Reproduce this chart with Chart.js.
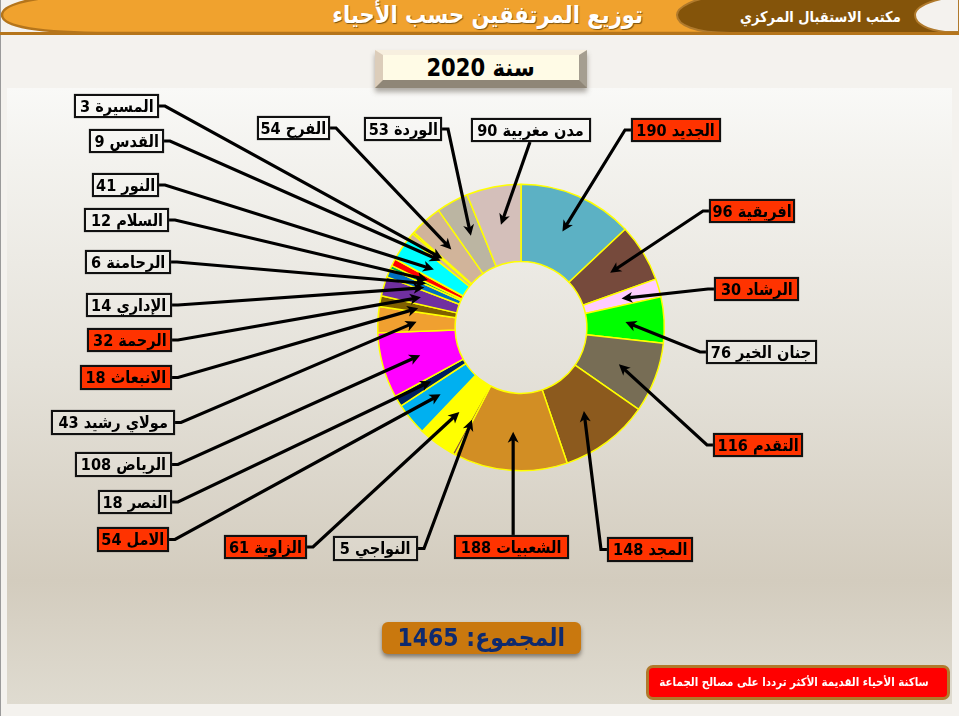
<!DOCTYPE html>
<html lang="ar">
<head>
<meta charset="utf-8">
<title>توزيع المرتفقين حسب الأحياء</title>
<script src="https://cdn.jsdelivr.net/npm/chart.js@4"></script>
<style>
  * { box-sizing: border-box; }
  body { margin: 0; width: 959px; height: 716px; overflow: hidden; position: relative; background: #f4f2ee; font-family: "DejaVu Sans", sans-serif; font-weight: bold; }
  .abs { position: absolute; }
  .angosto { display: inline-block; transform: scaleX(.88); white-space: nowrap; }
  #edge { left: 0; top: 0; width: 1px; height: 716px; background: #9a9a9a; }
  #panel { left: 7px; top: 88px; width: 945px; height: 616px; background: linear-gradient(#f9f9f7 0%, #f3f2ee 12%, #e5e2da 45%, #d3ccbe 80%, #dfdbd0 100%); }
  #header { left: 0; top: 0; }
  #title { left: 300px; top: 0; width: 376px; height: 33px; color: #fff; font-size: 24px; line-height: 31px; text-align: center; white-space: nowrap; text-shadow: 1px 1px 1px #7a5210; }
  #office { left: 720px; top: 0; width: 200px; height: 33px; color: #fff; font-size: 14.8px; line-height: 33px; text-align: center; white-space: nowrap; }
  #year { left: 375px; top: 50px; width: 212px; height: 38px; background: #fffbe6; border-style: solid; border-width: 5px 8px 8px 8px; border-color: #f7efdf #a59e90 #8f8677 #dccdba; box-shadow: 0 4px 5px rgba(80,70,60,.45); text-align: center; font-size: 24px; line-height: 26px; color: #000; }
  #total { left: 382px; top: 622px; width: 199px; height: 32px; background: #c9780e; border-radius: 6px; box-shadow: 0 3px 4px rgba(70,60,50,.6); text-align: center; font-size: 25px; line-height: 32px; color: #0e2a6e; }
  #note { left: 646px; top: 665px; width: 304px; height: 35px; background: #ff0000; border: 3px solid #b07a2c; border-radius: 7px; text-align: center; font-size: 11.7px; line-height: 28px; color: #fff; white-space: nowrap; }
  #myChart { left: 0; top: 0; }
  .caja { position: absolute; display: flex; align-items: center; justify-content: center; border: 2px solid #111; color: #000; font-size: 16.5px; white-space: nowrap; background: rgba(255,255,255,.15); box-shadow: 0 0 1px #555; }
  .caja.roja { background: #ff3300; }
</style>
</head>
<body>
<div class="abs" id="panel"></div>
<div class="abs" id="edge"></div>
<svg class="abs" id="header" width="959" height="36">
  <path d="M959,33 L110,33 C40,33 2,27 2,15 C2,5 30,-2 60,-3 L959,-3 Z" fill="#f0a22e" stroke="#b5751b" stroke-width="2.5"/>
  <path d="M959,33 L730,33 C695,33 677,25 677,15 C677,7 695,-2 715,-3 L959,-3 Z" fill="#84540a" stroke="#b07a2c" stroke-width="2"/>
  <path d="M959,32 L945,32 C928,30 915,24 915,15 C915,7 930,1 950,-3 L959,-3 Z" fill="#f4f2ee" stroke="#b07a2c" stroke-width="2"/>
  <rect x="0" y="32" width="959" height="3" fill="#b5751b"/>
</svg>
<div class="abs" id="title" dir="rtl"><span class="angosto">توزيع المرتفقين حسب الأحياء</span></div>
<div class="abs" id="office" dir="rtl"><span class="angosto">مكتب الاستقبال المركزي</span></div>
<div class="abs" id="year" dir="rtl"><span class="angosto">سنة 2020</span></div>
<canvas class="abs" id="myChart" width="959" height="716"></canvas>
<div id="cajas"></div>
<div class="abs" id="total" dir="rtl"><span class="angosto">المجموع: 1465</span></div>
<div class="abs" id="note" dir="rtl"><span class="angosto">ساكنة الأحياء القديمة الأكثر ترددا على مصالح الجماعة</span></div>

<script>
// clockwise from 12 o'clock
let barrios = ["الجديد", "افريقية", "الرشاد", "جنان الخير", "التقدم", "المجد", "الشعبيات", "النواجي", "الزاوية", "الامل", "النصر", "الرياض", "مولاي رشيد", "الانبعاث", "الرحمة", "الإداري", "الرحامنة", "السلام", "النور", "القدس", "المسيرة", "الفرح", "الوردة", "مدن مغربية"];
let valores = [190, 96, 30, 76, 116, 148, 188, 5, 61, 54, 18, 108, 43, 18, 32, 14, 6, 12, 41, 9, 3, 54, 53, 90];
let colores = ["#5cb1c4", "#764a3c", "#ffccff", "#00ff00", "#776d55", "#8c5a1e", "#d28e24", "#8c5a3c", "#ffff00", "#00b0f0", "#002060", "#ff00ff", "#f0a030", "#7f6000", "#7030a0", "#0070c0", "#00b050", "#ff0000", "#00ffff", "#d2b49c", "#a08060", "#d1b49a", "#bbb5a2", "#d4bfba"];
let rojas = ["الجديد", "افريقية", "الرشاد", "التقدم", "المجد", "الشعبيات", "الزاوية", "الامل", "الانبعاث", "الرحمة"];

// label box placement: left, top, right, bottom, side the leader leaves from
let cajas = [
  [631, 118, 721, 142, "l"], [709, 199, 795, 223, "l"], [714, 277, 799, 301, "l"], [706, 340, 817, 364, "l"],
  [713, 433, 803, 457, "l"], [607, 537, 693, 562, "l"], [454, 535, 569, 559, "t"], [333, 536, 418, 561, "r"],
  [224, 535, 307, 559, "r"], [97, 527, 169, 552, "r"], [98, 490, 172, 514, "r"], [75, 452, 172, 477, "r"],
  [51, 410, 175, 435, "r"], [80, 365, 172, 390, "r"], [87, 328, 172, 352, "r"], [86, 293, 172, 317, "r"],
  [85, 250, 171, 274, "r"], [84, 208, 169, 232, "r"], [92, 173, 159, 197, "r"], [89, 129, 164, 153, "r"],
  [74, 94, 159, 118, "r"], [257, 116, 330, 140, "r"], [364, 117, 442, 141, "r"], [471, 118, 591, 142, "b"]
];

function crearCajas() {
  let cont = document.querySelector("#cajas");
  barrios.forEach((nombre, i) => {
    let [x0, y0, x1, y1] = cajas[i];
    let d = document.createElement("div");
    d.className = rojas.includes(nombre) ? "caja roja" : "caja";
    d.dir = "rtl";
    d.style.left = x0 + "px";
    d.style.top = y0 + "px";
    d.style.width = x1 - x0 + "px";
    d.style.height = y1 - y0 + "px";
    let s = document.createElement("span");
    s.className = "angosto";
    s.textContent = `${nombre} ${valores[i]}`;
    d.appendChild(s);
    cont.appendChild(d);
  });
}

function flecha(ctx, puntos) {
  let a = puntos[puntos.length - 2];
  let b = puntos[puntos.length - 1];
  let ang = Math.atan2(b.y - a.y, b.x - a.x);
  ctx.beginPath();
  ctx.moveTo(puntos[0].x, puntos[0].y);
  for (let k = 1; k < puntos.length; k++) {
    // stop the shaft inside the head
    let fin = k == puntos.length - 1;
    ctx.lineTo(puntos[k].x - (fin ? 6 * Math.cos(ang) : 0), puntos[k].y - (fin ? 6 * Math.sin(ang) : 0));
  }
  ctx.stroke();
  ctx.save();
  ctx.translate(b.x, b.y);
  ctx.rotate(ang);
  ctx.beginPath();
  ctx.moveTo(0, 0);
  ctx.lineTo(-11, -5.5);
  ctx.lineTo(-8, 0);
  ctx.lineTo(-11, 5.5);
  ctx.closePath();
  ctx.fill();
  ctx.restore();
}

// leader lines end on each slice's centre point
let lineas = {
  id: "lineas",
  afterDatasetsDraw(chart) {
    let ctx = chart.ctx;
    let arcos = chart.getDatasetMeta(0).data;
    ctx.save();
    ctx.strokeStyle = "#000";
    ctx.fillStyle = "#000";
    ctx.lineWidth = 3.2;
    ctx.lineJoin = "miter";
    arcos.forEach((arco, i) => {
      let [x0, y0, x1, y1, lado] = cajas[i];
      let fin = arco.getCenterPoint();
      let puntos;
      if (lado == "l") {
        let y = (y0 + y1) / 2;
        puntos = [{ x: x0, y }, { x: x0 - 6, y }, fin];
      } else if (lado == "r") {
        let y = (y0 + y1) / 2;
        puntos = [{ x: x1, y }, { x: x1 + 6, y }, fin];
      } else if (lado == "t") {
        puntos = [{ x: fin.x, y: y0 }, fin];
      } else {
        puntos = [{ x: (x0 + x1) / 2 - 1, y: y1 }, fin];
      }
      flecha(ctx, puntos);
    });
    ctx.restore();
  },
};

crearCajas();

let myChart = new Chart(document.getElementById("myChart"), {
  type: "doughnut",
  data: {
    labels: barrios,
    datasets: [
      {
        data: valores,
        backgroundColor: colores,
        borderColor: "#ffff00",
        borderWidth: 1.5,
      },
    ],
  },
  options: {
    responsive: false,
    animation: false,
    cutout: "46%",
    layout: { padding: { left: 377, top: 183, right: 294, bottom: 244 } },
    plugins: { legend: { display: false }, tooltip: { enabled: false } },
  },
  plugins: [lineas],
});
</script>
</body>
</html>
